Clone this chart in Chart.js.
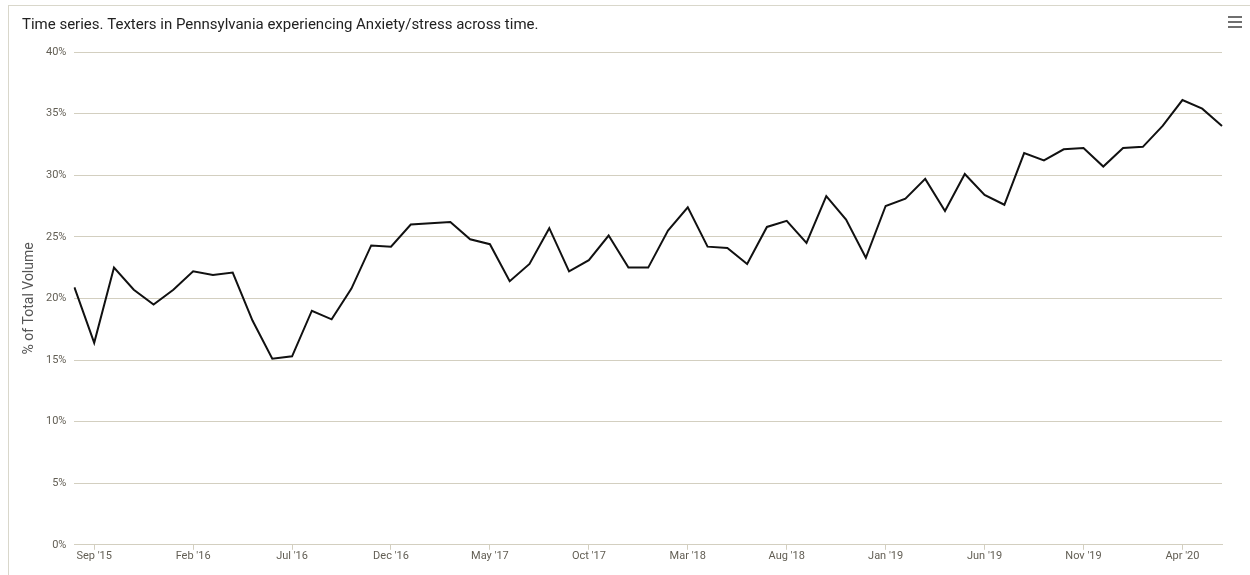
<!DOCTYPE html>
<html>
<head>
<meta charset="utf-8">
<title>Texters in Pennsylvania experiencing Anxiety/stress</title>
<script src="https://cdn.jsdelivr.net/npm/chart.js@4.4.0/dist/chart.umd.min.js"></script>
<style>
  html, body { margin: 0; padding: 0; background: #fff; overflow: hidden; }
  #wrap { position: relative; width: 1250px; height: 575px; }
  #frame { position: absolute; left: 8px; top: 5px; width: 1400px; height: 700px;
           border: 1px solid #d9d7cb; box-sizing: border-box; pointer-events: none; }
  #menu { position: absolute; left: 1228px; top: 16px; width: 14px; }
  #menu div { height: 2px; background: #6f6f6f; margin-bottom: 3px; }
</style>
</head>
<body>
<div id="wrap">
  <canvas id="myChart" width="1250" height="575"></canvas>
  <div id="frame"></div>
  <div id="menu"><div></div><div></div><div></div></div>
</div>
<script>
// monthly points, Aug '15 .. Jun '20
var months = [
  "Aug '15", "Sep '15", "Oct '15", "Nov '15", "Dec '15",
  "Jan '16", "Feb '16", "Mar '16", "Apr '16", "May '16", "Jun '16", "Jul '16", "Aug '16", "Sep '16", "Oct '16", "Nov '16", "Dec '16",
  "Jan '17", "Feb '17", "Mar '17", "Apr '17", "May '17", "Jun '17", "Jul '17", "Aug '17", "Sep '17", "Oct '17", "Nov '17", "Dec '17",
  "Jan '18", "Feb '18", "Mar '18", "Apr '18", "May '18", "Jun '18", "Jul '18", "Aug '18", "Sep '18", "Oct '18", "Nov '18", "Dec '18",
  "Jan '19", "Feb '19", "Mar '19", "Apr '19", "May '19", "Jun '19", "Jul '19", "Aug '19", "Sep '19", "Oct '19", "Nov '19", "Dec '19",
  "Jan '20", "Feb '20", "Mar '20", "Apr '20", "May '20", "Jun '20"
];

// % of total volume
var anxiety = [
  20.9, 16.4, 22.5, 20.7, 19.5, 20.7, 22.2, 21.9, 22.1, 18.2,
  15.1, 15.3, 19.0, 18.3, 20.8, 24.3, 24.2, 26.0, 26.1, 26.2,
  24.8, 24.4, 21.4, 22.8, 25.7, 22.2, 23.1, 25.1, 22.5, 22.5,
  25.5, 27.4, 24.2, 24.1, 22.8, 25.8, 26.3, 24.5, 28.3, 26.4,
  23.3, 27.5, 28.1, 29.7, 27.1, 30.1, 28.4, 27.6, 31.8, 31.2,
  32.1, 32.2, 30.7, 32.2, 32.3, 34.0, 36.1, 35.4, 34.0
];

// labels that are actually shown on the x axis
var xTickLabels = ["Sep '15", "Feb '16", "Jul '16", "Dec '16", "May '17", "Oct '17",
                   "Mar '18", "Aug '18", "Jan '19", "Jun '19", "Nov '19", "Apr '20"];

var gridColor = "#d3cfc0";
var tickColor = "#625e54";
var fontFamily = "Roboto, 'DejaVu Sans', sans-serif";

var ctx = document.getElementById("myChart");
var myLineChart = new Chart(ctx, {
    type: 'line',
    data: {
        labels: months,
        datasets: [{
            label: "Anxiety/stress",
            data: anxiety,
            fill: false,
            tension: 0,
            borderColor: "#111111",
            borderWidth: 2,
            pointRadius: 0,
            pointHoverRadius: 0
        }]
    },
    options: {
        responsive: false,
        animation: false,
        layout: {
            padding: { left: 22, right: 28, top: 0, bottom: 12 }
        },
        plugins: {
            legend: { display: false },
            tooltip: { enabled: false },
            title: {
                display: true,
                text: 'Time series. Texters in Pennsylvania experiencing Anxiety/stress across time.',
                align: 'start',
                color: '#222222',
                font: { family: fontFamily, size: 15, weight: 'normal' },
                padding: { top: 16, bottom: 18 }
            }
        },
        scales: {
            x: {
                offset: false,
                grid: {
                    display: true,
                    drawOnChartArea: false,
                    drawTicks: true,
                    tickLength: 5,
                    color: gridColor
                },
                border: { display: true, color: gridColor, width: 1 },
                ticks: {
                    autoSkip: false,
                    maxRotation: 0,
                    padding: 0,
                    color: tickColor,
                    font: { family: fontFamily, size: 11 },
                    callback: function(value, index) {
                        var lab = months[index];
                        return xTickLabels.indexOf(lab) >= 0 ? lab : null;
                    }
                }
            },
            y: {
                min: 0,
                max: 40,
                grid: {
                    color: gridColor,
                    drawTicks: false
                },
                border: { display: false },
                ticks: {
                    stepSize: 5,
                    padding: 8,
                    color: tickColor,
                    font: { family: fontFamily, size: 11 },
                    callback: function(v) { return v + '%'; }
                },
                title: {
                    display: true,
                    text: '% of Total Volume',
                    color: '#555555',
                    font: { family: fontFamily, size: 14, lineHeight: 1 },
                    padding: { top: 0, bottom: 2 }
                }
            }
        }
    }
});
</script>
</body>
</html>
